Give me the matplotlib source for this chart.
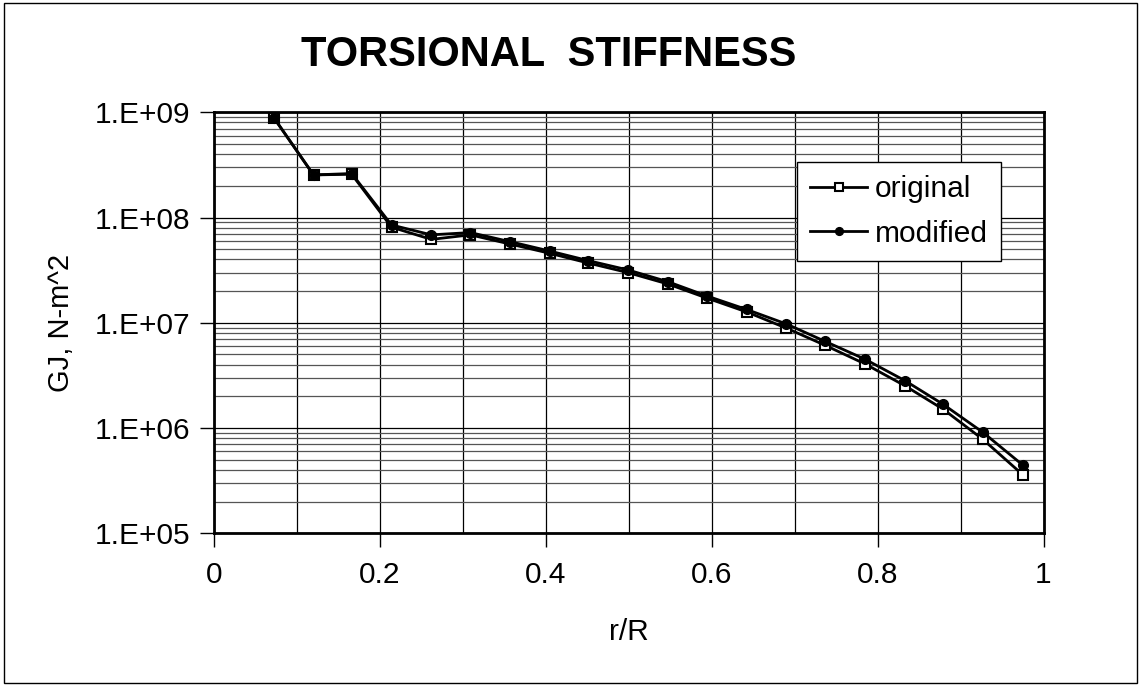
import numpy as np
import matplotlib
matplotlib.use('Agg')
import matplotlib.pyplot as plt
from matplotlib.ticker import FixedLocator, FuncFormatter, LogLocator, NullFormatter
from matplotlib.patches import Rectangle

plt.rcParams['font.family'] = ['Liberation Sans', 'DejaVu Sans']

# data
r_R = [0.0725, 0.120, 0.166, 0.214, 0.262, 0.309, 0.357, 0.405, 0.451, 0.499,
       0.547, 0.594, 0.642, 0.690, 0.736, 0.785, 0.833, 0.879, 0.927, 0.975]
gj_original = [8.8e8, 2.54e8, 2.58e8, 8.1e7, 6.2e7, 6.85e7, 5.6e7, 4.57e7, 3.7e7, 3.0e7,
               2.34e7, 1.72e7, 1.27e7, 8.9e6, 6.15e6, 4.06e6, 2.52e6, 1.51e6, 7.8e5, 3.6e5]
gj_modified = [8.8e8, 2.54e8, 2.62e8, 8.5e7, 6.85e7, 7.2e7, 5.9e7, 4.8e7, 3.9e7, 3.18e7,
               2.46e7, 1.8e7, 1.34e7, 9.75e6, 6.7e6, 4.5e6, 2.82e6, 1.68e6, 9.1e5, 4.45e5]

fig = plt.figure(figsize=(11.41, 6.85), dpi=100)
ax = fig.add_axes([214 / 1141, 1 - 533.3 / 685, (1043.5 - 214) / 1141, (533.3 - 112.3) / 685])

# grid
ax.set_yscale('log')
ax.set_ylim(1e5, 1e9)
ax.set_xlim(0, 1)
ax.xaxis.set_major_locator(FixedLocator([0, 0.2, 0.4, 0.6, 0.8, 1.0]))
ax.xaxis.set_minor_locator(FixedLocator(np.arange(0.1, 1.0, 0.2)))
ax.xaxis.set_major_formatter(FuncFormatter(lambda v, _: '%g' % v))
ax.yaxis.set_major_locator(LogLocator(base=10, numticks=10))
ax.yaxis.set_minor_locator(LogLocator(base=10, subs=np.arange(2, 10), numticks=20))
ax.yaxis.set_major_formatter(FuncFormatter(lambda v, _: '1.E+%02d' % round(np.log10(v))))
ax.yaxis.set_minor_formatter(NullFormatter())

ax.grid(True, which='both', axis='x', color='black', linewidth=0.9)
ax.grid(True, which='major', axis='y', color='black', linewidth=0.9)
ax.grid(True, which='minor', axis='y', color='#555555', linewidth=0.9)
ax.set_axisbelow(True)

ax.tick_params(which='major', direction='out', length=10, width=1, labelsize=21.5)
ax.tick_params(axis='x', pad=10)
ax.tick_params(axis='y', pad=7)
ax.tick_params(which='minor', length=0)
for s in ax.spines.values():
    s.set_linewidth(2)

ax.plot(r_R, gj_original, color='black', linewidth=2, marker='s', markersize=6.5,
        markerfacecolor='white', markeredgecolor='black', markeredgewidth=1.5,
        label='original', zorder=3)
ax.plot(r_R, gj_modified, color='black', linewidth=2, marker='o', markersize=7,
        markerfacecolor='black', markeredgecolor='black', label='modified', zorder=4)

leg = ax.legend(loc='upper left',
                bbox_to_anchor=(797 / 1141, 1 - 162 / 685), bbox_transform=fig.transFigure,
                fontsize=21.5, frameon=True, fancybox=False, framealpha=1, edgecolor='black',
                borderaxespad=0, handlelength=1.9, handletextpad=0.25, borderpad=0.45,
                labelspacing=0.55, markerscale=0.8)
leg.get_frame().set_linewidth(1)

fig.text(549 / 1141, 1 - 55 / 685, 'TORSIONAL  STIFFNESS', fontsize=30, fontweight='bold',
         ha='center', va='center')
ax.set_xlabel('r/R', fontsize=21.5, labelpad=21)
ax.set_ylabel('GJ, N-m^2', fontsize=21, labelpad=14)

fig.patches.append(Rectangle((4 / 1141, 2 / 685), 1133 / 1141, 680 / 685,
                             transform=fig.transFigure, fill=False,
                             edgecolor='black', linewidth=1))

fig.savefig('out.png', dpi=100)
